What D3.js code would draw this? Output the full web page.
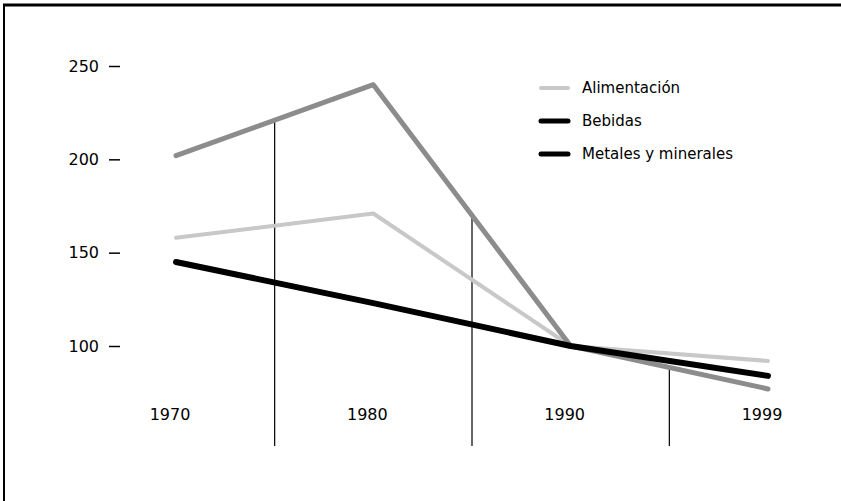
<!DOCTYPE html>
<html>
<head>
<meta charset="utf-8">
<script src="https://cdn.jsdelivr.net/npm/d3@7"></script>
<style>
  body { margin: 0; background: #fff; }
  svg { display: block; }
</style>
</head>
<body>
<svg id="chart" width="841" height="501"></svg>
<script>
let WIDTH = 841;
let HEIGHT = 501;

// datos
let years = ['1970', '1980', '1990', '1999'];
let alimentacion = [158, 171, 100, 92];
let bebidas = [202, 240, 100, 77];
let metales = [145, 123, 100, 84];
let yTicks = [100, 150, 200, 250];
let legendNames = ['Alimentación', 'Bebidas', 'Metales y minerales'];

let svg = d3.select('#chart');

// marco
svg.append('line').attr('x1', 3).attr('x2', WIDTH).attr('y1', 5).attr('y2', 5)
  .attr('stroke', '#000').attr('stroke-width', 3);
svg.append('line').attr('x1', 4).attr('x2', 4).attr('y1', 4).attr('y2', HEIGHT)
  .attr('stroke', '#000').attr('stroke-width', 2);

let xScale = d3.scalePoint().domain(years).range([176, 768]);
let yScale = d3.scaleLinear().domain([100, 250]).range([346, 66]);

// eje y
let leftAxis = d3.axisLeft(yScale).tickValues(yTicks).tickSize(11).tickPadding(10);
let yAxis = svg.append('g')
  .attr('transform', 'translate(120,0)')
  .call(leftAxis);
yAxis.select('.domain').remove();
yAxis.selectAll('.tick line').attr('stroke', '#000').attr('stroke-width', 1.5);
yAxis.selectAll('.tick text')
  .attr('fill', '#000')
  .style('font-family', 'DejaVu Sans')
  .style('font-size', '16px');

// lineas verticales entre decadas (hasta la linea de Bebidas)
let mids = d3.range(years.length - 1).map(function (i) {
  return {
    x: (xScale(years[i]) + xScale(years[i + 1])) / 2,
    y: (yScale(bebidas[i]) + yScale(bebidas[i + 1])) / 2
  };
});
svg.append('g').selectAll('line')
  .data(mids)
  .enter().append('line')
  .attr('x1', function (d) { return d.x; })
  .attr('x2', function (d) { return d.x; })
  .attr('y1', function (d) { return d.y; })
  .attr('y2', 446)
  .attr('stroke', '#000')
  .attr('stroke-width', 1.2);

// etiquetas x
svg.append('g').selectAll('text')
  .data(years)
  .enter().append('text')
  .attr('x', function (d) { return xScale(d) - 6; })
  .attr('y', 420)
  .attr('text-anchor', 'middle')
  .style('font-family', 'DejaVu Sans')
  .style('font-size', '16px')
  .text(function (d) { return d; });

let line = d3.line()
  .x(function (d, i) { return xScale(years[i]); })
  .y(function (d) { return yScale(d); });

let series = [
  { name: legendNames[0], values: alimentacion, color: '#c8c8c8', width: 4 },
  { name: legendNames[1], values: bebidas, color: '#8c8c8c', width: 5 },
  { name: legendNames[2], values: metales, color: '#000', width: 6 }
];

svg.append('g').selectAll('path')
  .data(series)
  .enter().append('path')
  .attr('d', function (d) { return line(d.values); })
  .attr('fill', 'none')
  .attr('stroke', function (d) { return d.color; })
  .attr('stroke-width', function (d) { return d.width; })
  .attr('stroke-linejoin', 'round')
  .attr('stroke-linecap', 'round');

// leyenda (en el original las dos ultimas muestras son negras)
let legendColors = ['#c8c8c8', '#000', '#000'];
let legend = svg.append('g').selectAll('g')
  .data(legendNames)
  .enter().append('g')
  .attr('transform', function (d, i) { return 'translate(0,' + (88 + i * 33) + ')'; });
legend.append('line')
  .attr('x1', 541).attr('x2', 568)
  .attr('stroke', function (d, i) { return legendColors[i]; })
  .attr('stroke-width', function (d, i) { return i === 0 ? 4 : 5; })
  .attr('stroke-linecap', 'round');
legend.append('text')
  .attr('x', 582)
  .attr('y', 5)
  .style('font-family', 'DejaVu Sans')
  .style('font-size', '15px')
  .text(function (d) { return d; });
</script>
</body>
</html>
